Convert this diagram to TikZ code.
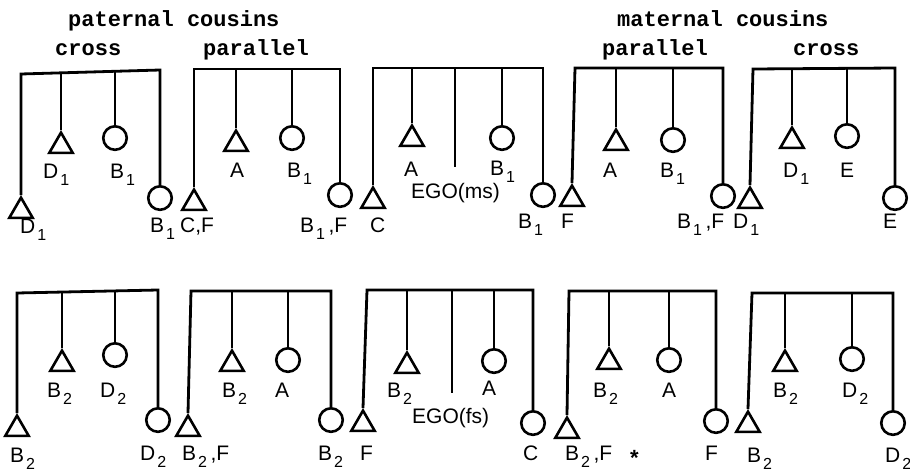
\documentclass[tikz,border=0pt]{standalone}
\usepackage{fontspec}
\setmainfont{Liberation Sans}
\newfontfamily\titlefont{Liberation Mono}
\usetikzlibrary{shapes.geometric}
\newcommand\sbs[1]{\hspace{2pt}\raisebox{-7pt}{\fontsize{16}{16}\selectfont #1}}
\tikzset{
 kin/.style={line width=2.8pt, line join=miter},
 tri/.style={regular polygon, regular polygon sides=3, draw, line width=2.6pt, minimum size=27pt, inner sep=0pt, anchor=corner 1},
 circ/.style={circle, draw, line width=2.6pt, minimum size=23.5pt, inner sep=0pt, anchor=north},
 lab/.style={anchor=base west, inner sep=0pt, font=\fontsize{21}{21}\selectfont},
 ttl/.style={anchor=base west, inner sep=0pt, font=\titlefont\bfseries\fontsize{22}{22}\selectfont},
}
\begin{document}
\begin{tikzpicture}[x=1pt,y=-1pt]
\useasboundingbox (0,0) rectangle (910,471);
% titles
\node[ttl] (t1) at (68,27) {paternal cousins};
\node[ttl] (t2) at (55,55) {cross};
\node[ttl] (t3) at (203,55) {parallel};
\node[ttl] (t4) at (617,27) {maternal cousins};
\node[ttl] (t5) at (602,55) {parallel};
\node[ttl] (t6) at (793,55) {cross};

% ===== top row =====
% group 1
\coordinate (a1) at (21,74); \coordinate (a2) at (61,73); \coordinate (a3) at (115,71); \coordinate (a4) at (160,70);
\node[tri] (a1s) at (21,195) {};
\node[tri] (a2s) at (61,130) {};
\node[circ] (a3s) at (115,125) {};
\node[circ] (a4s) at (160,185) {};
\draw[kin] (a1s.corner 1) -- (a1) -- (a4) -- (a4s.north);
\draw[kin] (a2) -- (a2s.corner 1);
\draw[kin] (a3) -- (a3s.north);
\node[lab] (a1l) at (20,233) {D\sbs{1}};
\node[lab] (a2l) at (43,178) {D\sbs{1}};
\node[lab] (a3l) at (110,178) {B\sbs{1}};
\node[lab] (a4l) at (150,232) {B\sbs{1}};
% group 2
\coordinate (b1) at (194,69); \coordinate (b2) at (236,69); \coordinate (b3) at (292,69); \coordinate (b4) at (340,69);
\node[tri] (b1s) at (194,187) {};
\node[tri] (b2s) at (236,128) {};
\node[circ] (b3s) at (292,125) {};
\node[circ] (b4s) at (340,182) {};
\draw[kin] (b1s.corner 1) -- (b1) -- (b4) -- (b4s.north);
\draw[kin] (b2) -- (b2s.corner 1);
\draw[kin] (b3) -- (b3s.north);
\node[lab] (b1l) at (180,232) {C,F};
\node[lab] (b2l) at (230,177) {A};
\node[lab] (b3l) at (287,177) {B\sbs{1}};
\node[lab] (b4l) at (300,232) {B\sbs{1}\,,F};
% group 3
\coordinate (c1) at (373,68); \coordinate (c2) at (412,68); \coordinate (c3) at (455,68); \coordinate (c4) at (502,68); \coordinate (c5) at (543,68);
\coordinate (c3e) at (455,167);
\node[tri] (c1s) at (373,185) {};
\node[tri] (c2s) at (412,123) {};
\node[circ] (c4s) at (502,125) {};
\node[circ] (c5s) at (543,182) {};
\draw[kin] (c1s.corner 1) -- (c1) -- (c5) -- (c5s.north);
\draw[kin] (c2) -- (c2s.corner 1);
\draw[kin] (c3) -- (c3e);
\draw[kin] (c4) -- (c4s.north);
\node[lab] (c1l) at (370,232) {C};
\node[lab] (c2l) at (404,176) {A};
\node[lab] (c3l) at (411,198) {EGO(ms)};
\node[lab] (c4l) at (490,175) {B\sbs{1}};
\node[lab] (c5l) at (518,228) {B\sbs{1}};
% group 4
\coordinate (d1) at (575,68); \coordinate (d2) at (616,68); \coordinate (d3) at (673,68); \coordinate (d4) at (723,68);
\node[tri] (d1s) at (572,183) {};
\node[tri] (d2s) at (616,127) {};
\node[circ] (d3s) at (673,127) {};
\node[circ] (d4s) at (723,183) {};
\draw[kin] (d1s.corner 1) -- (d1) -- (d4) -- (d4s.north);
\draw[kin] (d2) -- (d2s.corner 1);
\draw[kin] (d3) -- (d3s.north);
\node[lab] (d1l) at (561,228) {F};
\node[lab] (d2l) at (603,177) {A};
\node[lab] (d3l) at (660,177) {B\sbs{1}};
\node[lab] (d4l) at (677,228) {B\sbs{1}\,,F};
% group 5
\coordinate (e1) at (753,69); \coordinate (e2) at (792,68); \coordinate (e3) at (847,68); \coordinate (e4) at (895,68);
\node[tri] (e1s) at (750,185) {};
\node[tri] (e2s) at (792,125) {};
\node[circ] (e3s) at (847,123) {};
\node[circ] (e4s) at (895,185) {};
\draw[kin] (e1s.corner 1) -- (e1) -- (e4) -- (e4s.north);
\draw[kin] (e2) -- (e2s.corner 1);
\draw[kin] (e3) -- (e3s.north);
\node[lab] (e1l) at (733,228) {D\sbs{1}};
\node[lab] (e2l) at (783,177) {D\sbs{1}};
\node[lab] (e3l) at (840,177) {E};
\node[lab] (e4l) at (883,228) {E};

% ===== bottom row =====
% group 1
\coordinate (f1) at (17,293); \coordinate (f2) at (62,292); \coordinate (f3) at (115,291); \coordinate (f4) at (158,290);
\node[tri] (f1s) at (17,413) {};
\node[tri] (f2s) at (62,348) {};
\node[circ] (f3s) at (115,342) {};
\node[circ] (f4s) at (158,407) {};
\draw[kin] (f1s.corner 1) -- (f1) -- (f4) -- (f4s.north);
\draw[kin] (f2) -- (f2s.corner 1);
\draw[kin] (f3) -- (f3s.north);
\node[lab] (f1l) at (10,462) {B\sbs{2}};
\node[lab] (f2l) at (47,397) {B\sbs{2}};
\node[lab] (f3l) at (100,397) {D\sbs{2}};
\node[lab] (f4l) at (140,460) {D\sbs{2}};
% group 2
\coordinate (g1) at (191,291); \coordinate (g2) at (232,291); \coordinate (g3) at (288,291); \coordinate (g4) at (331,291);
\node[tri] (g1s) at (188,413) {};
\node[tri] (g2s) at (232,348) {};
\node[circ] (g3s) at (288,347) {};
\node[circ] (g4s) at (331,407) {};
\draw[kin] (g1s.corner 1) -- (g1) -- (g4) -- (g4s.north);
\draw[kin] (g2) -- (g2s.corner 1);
\draw[kin] (g3) -- (g3s.north);
\node[lab] (g1l) at (182,460) {B\sbs{2}\,,F};
\node[lab] (g2l) at (222,397) {B\sbs{2}};
\node[lab] (g3l) at (275,397) {A};
\node[lab] (g4l) at (318,460) {B\sbs{2}};
% group 3
\coordinate (h1) at (367,290); \coordinate (h2) at (407,290); \coordinate (h3) at (452,290); \coordinate (h4) at (494,290); \coordinate (h5) at (533,290);
\coordinate (h3e) at (452,393);
\node[tri] (h1s) at (363,408) {};
\node[tri] (h2s) at (407,350) {};
\node[circ] (h4s) at (494,348) {};
\node[circ] (h5s) at (533,410) {};
\draw[kin] (h1s.corner 1) -- (h1) -- (h5) -- (h5s.north);
\draw[kin] (h2) -- (h2s.corner 1);
\draw[kin] (h3) -- (h3e);
\draw[kin] (h4) -- (h4s.north);
\node[lab] (h1l) at (360,460) {F};
\node[lab] (h2l) at (387,397) {B\sbs{2}};
\node[lab] (h3l) at (412,423) {EGO(fs)};
\node[lab] (h4l) at (482,395) {A};
\node[lab] (h5l) at (523,460) {C};
% group 4
\coordinate (i1) at (569,291); \coordinate (i2) at (609,291); \coordinate (i3) at (669,291); \coordinate (i4) at (716,291);
\node[tri] (i1s) at (567,415) {};
\node[tri] (i2s) at (609,346) {};
\node[circ] (i3s) at (669,347) {};
\node[circ] (i4s) at (716,408) {};
\draw[kin] (i1s.corner 1) -- (i1) -- (i4) -- (i4s.north);
\draw[kin] (i2) -- (i2s.corner 1);
\draw[kin] (i3) -- (i3s.north);
\node[lab] (i1l) at (565,460) {B\sbs{2}\,,F};
\node[lab, font=\bfseries\fontsize{22}{22}\selectfont] (i1m) at (630,465) {*};
\node[lab] (i2l) at (593,397) {B\sbs{2}};
\node[lab] (i3l) at (662,397) {A};
\node[lab] (i4l) at (705,460) {F};
% group 5
\coordinate (j1) at (752,293); \coordinate (j2) at (785,293); \coordinate (j3) at (852,293); \coordinate (j4) at (893,293);
\node[tri] (j1s) at (748,409) {};
\node[tri] (j2s) at (785,348) {};
\node[circ] (j3s) at (852,346) {};
\node[circ] (j4s) at (893,410) {};
\draw[kin] (j1s.corner 1) -- (j1) -- (j4) -- (j4s.north);
\draw[kin] (j2) -- (j2s.corner 1);
\draw[kin] (j3) -- (j3s.north);
\node[lab] (j1l) at (747,462) {B\sbs{2}};
\node[lab] (j2l) at (773,397) {B\sbs{2}};
\node[lab] (j3l) at (842,397) {D\sbs{2}};
\node[lab] (j4l) at (885,462) {D\sbs{2}};
\end{tikzpicture}
\end{document}
